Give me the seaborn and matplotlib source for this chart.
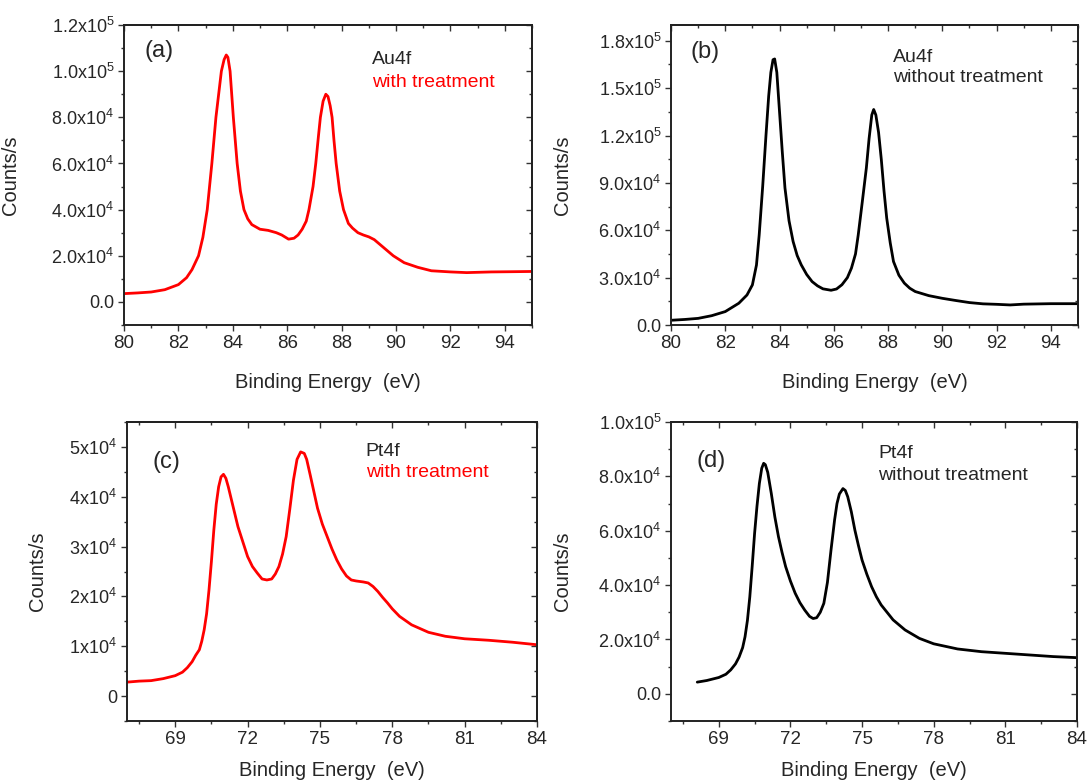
import numpy as np
import pandas as pd
import matplotlib
matplotlib.use("Agg")
import matplotlib.pyplot as plt
from matplotlib.ticker import MultipleLocator, FixedLocator
import seaborn as sns

sns.set_style("ticks")
plt.rcParams['font.family'] = ['Liberation Sans', 'DejaVu Sans']
plt.rcParams['mathtext.fontset'] = 'custom'
plt.rcParams['mathtext.rm'] = 'Liberation Sans'
plt.rcParams['mathtext.it'] = 'Liberation Sans:italic'
plt.rcParams['mathtext.default'] = 'regular'

# ---------------- data ----------------
# (a) Au4f with treatment
a_energy = [80.0, 80.5, 81.0, 81.5, 82.0, 82.3, 82.5, 82.74, 82.9, 83.06, 83.23, 83.38,
            83.5, 83.58, 83.68, 83.76, 83.82, 83.9, 84.02, 84.16, 84.28, 84.41, 84.55,
            84.7, 85.0, 85.3, 85.6, 85.8, 86.05, 86.25, 86.4, 86.55, 86.7, 86.8,
            86.95, 87.05, 87.15, 87.22, 87.32, 87.42, 87.5, 87.58, 87.65, 87.72,
            87.8, 87.93, 88.07, 88.25, 88.4, 88.6, 88.8, 89.0, 89.2, 89.4, 89.6,
            89.9, 90.3, 90.8, 91.3, 92.0, 92.6, 93.5, 94.3, 95.0]
a_counts = [3600, 3900, 4300, 5300, 7500, 10500, 14000, 20000, 28000, 40000, 60000, 80000,
            92000, 100000, 105000, 107000, 106000, 100000, 80000, 60000, 48000, 40000, 36000,
            33500, 31500, 31000, 30000, 29000, 27200, 27600, 29000, 31500, 35000, 40000,
            50000, 60000, 72000, 80000, 87000, 90000, 89000, 85000, 80000, 70000,
            60000, 48000, 40000, 34000, 32000, 30000, 29000, 28200, 27000, 25000, 23000,
            20000, 17000, 15000, 13500, 13000, 12700, 13000, 13100, 13200]

# (b) Au4f without treatment
b_energy = [80.0, 80.5, 81.0, 81.5, 82.0, 82.5, 82.8, 83.0, 83.15, 83.25, 83.38, 83.5,
            83.6, 83.68, 83.76, 83.82, 83.9, 84.0, 84.1, 84.2, 84.35, 84.5, 84.65,
            84.8, 85.0, 85.2, 85.4, 85.6, 85.9, 86.1, 86.3, 86.5, 86.65, 86.8,
            86.9, 87.05, 87.2, 87.3, 87.4, 87.47, 87.55, 87.65, 87.75, 87.85,
            87.95, 88.08, 88.2, 88.4, 88.6, 88.8, 89.0, 89.5, 90.0, 90.5, 91.0,
            91.5, 92.0, 92.5, 93.0, 94.0, 95.0]
b_counts = [3000, 3500, 4200, 5900, 8500, 13800, 19000, 25400, 38000, 57000, 88000, 120000,
            145000, 160000, 168000, 168500, 160000, 135000, 110000, 86800, 66000, 52900, 44000,
            38100, 32000, 27500, 24800, 22900, 22000, 22800, 25500, 30000, 36000, 45000,
            57000, 78000, 99500, 118000, 133000, 136500, 133000, 122000, 105000, 85000,
            67700, 52000, 40200, 31500, 26500, 23300, 21200, 18600, 16900, 15500, 14200,
            13400, 13100, 12700, 13200, 13500, 13500]

# (c) Pt4f with treatment
c_energy = [67.0, 67.5, 68.0, 68.5, 69.0, 69.3, 69.5, 69.7, 69.85, 70.0, 70.1, 70.2,
            70.3, 70.4, 70.5, 70.6, 70.7, 70.8, 70.9, 71.0, 71.1, 71.2, 71.3, 71.45,
            71.6, 71.8, 72.0, 72.2, 72.4, 72.6, 72.8, 73.0, 73.15, 73.3, 73.45, 73.6,
            73.75, 73.9, 74.05, 74.2, 74.35, 74.45, 74.6, 74.75, 74.9, 75.1, 75.3,
            75.5, 75.7, 75.9, 76.1, 76.3, 76.5, 76.8, 77.0, 77.2, 77.4, 77.6, 77.8,
            78.0, 78.3, 78.8, 79.5, 80.2, 81.0, 82.0, 83.0, 84.0]
c_counts = [2800, 3000, 3100, 3500, 4100, 4800, 5700, 6900, 8200, 9300, 11000, 13300,
            16500, 21300, 27000, 33300, 38500, 42000, 44000, 44500, 43700, 42000, 40000, 37000,
            34000, 31000, 28000, 26000, 24700, 23500, 23300, 23500, 24500, 26000, 28500, 32000,
            37500, 43300, 47500, 49000, 48700, 47500, 44300, 41000, 37700, 34500, 32000,
            29500, 27300, 25500, 24100, 23300, 23100, 22900, 22700, 22000, 21000, 19800, 18700,
            17500, 16000, 14300, 12800, 12000, 11500, 11200, 10800, 10300]

# (d) Pt4f without treatment
d_energy = [68.1, 68.5, 69.0, 69.3, 69.5, 69.7, 69.85, 70.0, 70.1, 70.2, 70.3, 70.4,
            70.5, 70.6, 70.7, 70.8, 70.88, 70.95, 71.05, 71.2, 71.35, 71.5, 71.65,
            71.8, 72.0, 72.2, 72.4, 72.6, 72.8, 72.95, 73.1, 73.25, 73.4, 73.55,
            73.7, 73.85, 73.95, 74.05, 74.2, 74.3, 74.4, 74.55, 74.7, 74.85, 75.0,
            75.2, 75.4, 75.6, 75.8, 76.0, 76.3, 76.8, 77.4, 78.0, 79.0, 80.0, 81.0,
            82.0, 83.0, 84.0]
d_counts = [4300, 4900, 6000, 7200, 8800, 11000, 13500, 17000, 21000, 27000, 35700, 47000,
            59000, 69000, 77400, 83000, 84800, 84300, 81500, 73700, 65000, 57800, 52000,
            46800, 41500, 37000, 33500, 30800, 28500, 27700, 28000, 30000, 33300, 41000,
            52900, 64000, 70000, 73500, 75500, 74800, 72500, 67000, 60200, 54500, 49200,
            44000, 39400, 35700, 32700, 30500, 27200, 23500, 20400, 18400, 16500, 15500, 14900,
            14300, 13700, 13300]

# tick values / labels
au_xticks = [80, 82, 84, 86, 88, 90, 92, 94]
pt_xticks = [69, 72, 75, 78, 81, 84]
a_yticks = [0, 20000, 40000, 60000, 80000, 100000, 120000]
a_ylabels = ['0.0', '2.0x10$^{4}$', '4.0x10$^{4}$', '6.0x10$^{4}$', '8.0x10$^{4}$',
             '1.0x10$^{5}$', '1.2x10$^{5}$']
b_yticks = [0, 30000, 60000, 90000, 120000, 150000, 180000]
b_ylabels = ['0.0', '3.0x10$^{4}$', '6.0x10$^{4}$', '9.0x10$^{4}$', '1.2x10$^{5}$',
             '1.5x10$^{5}$', '1.8x10$^{5}$']
c_yticks = [0, 10000, 20000, 30000, 40000, 50000]
c_ylabels = ['0', '1x10$^{4}$', '2x10$^{4}$', '3x10$^{4}$', '4x10$^{4}$', '5x10$^{4}$']
d_yticks = [0, 20000, 40000, 60000, 80000, 100000]
d_ylabels = ['0.0', '2.0x10$^{4}$', '4.0x10$^{4}$', '6.0x10$^{4}$', '8.0x10$^{4}$',
             '1.0x10$^{5}$']

panel_tags = ['(a)', '(b)', '(c)', '(d)']
panel_titles = ['Au4f', 'Au4f', 'Pt4f', 'Pt4f']
panel_notes = ['with treatment', 'without treatment', 'with treatment', 'without treatment']

# ---------------- figure ----------------
W, H = 1089, 780
fig = plt.figure(figsize=(W / 100, H / 100), dpi=100)

def rect(l, r, t, b):
    return [l / W, 1 - b / H, (r - l) / W, (b - t) / H]

rects = [rect(124, 532, 25, 325), rect(671, 1078, 25, 325),
         rect(127, 537, 422, 721), rect(671, 1077, 422, 721)]

RED = '#ff0000'
TXT = '#262626'

panels = [
    dict(x=a_energy, y=a_counts, color=RED, xlim=(80, 95), ylim=(-10000, 120000),
         xt=au_xticks, xminor=1, yt=a_yticks, yl=a_ylabels, yminor=10000,
         tag=(0.05, 0.915), title=(0.607, 0.885), note=(0.607, 0.808),
         ylab_x=-0.255, xlab_y=-0.16),
    dict(x=b_energy, y=b_counts, color='black', xlim=(80, 95), ylim=(0, 190000),
         xt=au_xticks, xminor=1, yt=b_yticks, yl=b_ylabels, yminor=15000,
         tag=(0.047, 0.91), title=(0.546, 0.893), note=(0.546, 0.825),
         ylab_x=-0.243, xlab_y=-0.16),
    dict(x=c_energy, y=c_counts, color=RED, xlim=(67, 84), ylim=(-5000, 55000),
         xt=pt_xticks, xminor=1.5, yt=c_yticks, yl=c_ylabels, yminor=5000,
         tag=(0.063, 0.865), title=(0.582, 0.9), note=(0.582, 0.83),
         ylab_x=-0.195, xlab_y=-0.135),
    dict(x=d_energy, y=d_counts, color='black', xlim=(67, 84), ylim=(-10000, 100000),
         xt=pt_xticks, xminor=1.5, yt=d_yticks, yl=d_ylabels, yminor=10000,
         tag=(0.063, 0.87), title=(0.51, 0.893), note=(0.51, 0.822),
         ylab_x=-0.243, xlab_y=-0.135),
]

for i, p in enumerate(panels):
    ax = fig.add_axes(rects[i])
    df = pd.DataFrame({'energy': p['x'], 'counts': p['y']})
    sns.lineplot(data=df, x='energy', y='counts', ax=ax, color=p['color'], lw=2.0)
    ax.set_xlim(*p['xlim'])
    ax.set_ylim(*p['ylim'])
    ax.xaxis.set_major_locator(FixedLocator(p['xt']))
    ax.set_xticklabels([str(v) for v in p['xt']])
    ax.xaxis.set_minor_locator(MultipleLocator(p['xminor']))
    ax.yaxis.set_major_locator(FixedLocator(p['yt']))
    ax.set_yticklabels(p['yl'])
    ax.yaxis.set_minor_locator(MultipleLocator(p['yminor']))
    ax.tick_params(which='major', direction='out', length=4, width=1, colors='#333333',
                   labelsize=13, labelcolor=TXT, pad=3)
    ax.tick_params(axis='x', which='major', labelsize=13.5)
    ax.tick_params(which='minor', direction='out', length=2.5, width=1, colors='#333333')
    for s in ax.spines.values():
        s.set_visible(True)
        s.set_linewidth(1.4)
        s.set_color('#222222')
    # mirrored inward ticks on top and right
    secx = ax.secondary_xaxis('top')
    secx.xaxis.set_major_locator(FixedLocator(p['xt']))
    secx.xaxis.set_minor_locator(MultipleLocator(p['xminor']))
    secx.tick_params(which='both', direction='in', labeltop=False, width=1, colors='#333333')
    secx.tick_params(which='major', length=4)
    secx.tick_params(which='minor', length=2.5)
    secx.spines['top'].set_linewidth(1.4)
    secy = ax.secondary_yaxis('right')
    secy.yaxis.set_major_locator(FixedLocator(p['yt']))
    secy.yaxis.set_minor_locator(MultipleLocator(p['yminor']))
    secy.tick_params(which='both', direction='in', labelright=False, width=1, colors='#333333')
    secy.tick_params(which='major', length=4)
    secy.tick_params(which='minor', length=2.5)
    secy.spines['right'].set_linewidth(1.4)

    ax.set_xlabel('Binding Energy  (eV)', fontsize=14.5, color=TXT)
    ax.set_ylabel('Counts/s', fontsize=14.5, color=TXT)
    ax.yaxis.set_label_coords(p['ylab_x'], 0.5)
    ax.xaxis.set_label_coords(0.5, p['xlab_y'])

    ax.text(p['tag'][0], p['tag'][1], panel_tags[i], transform=ax.transAxes,
            fontsize=17, color=TXT, ha='left', va='center')
    ax.text(p['title'][0], p['title'][1], panel_titles[i], transform=ax.transAxes,
            fontsize=14, color=TXT, ha='left', va='center')
    ax.text(p['note'][0], p['note'][1], panel_notes[i], transform=ax.transAxes,
            fontsize=14, color=(RED if p['color'] == RED else TXT), ha='left', va='center')

fig.savefig('out.png', dpi=100)
